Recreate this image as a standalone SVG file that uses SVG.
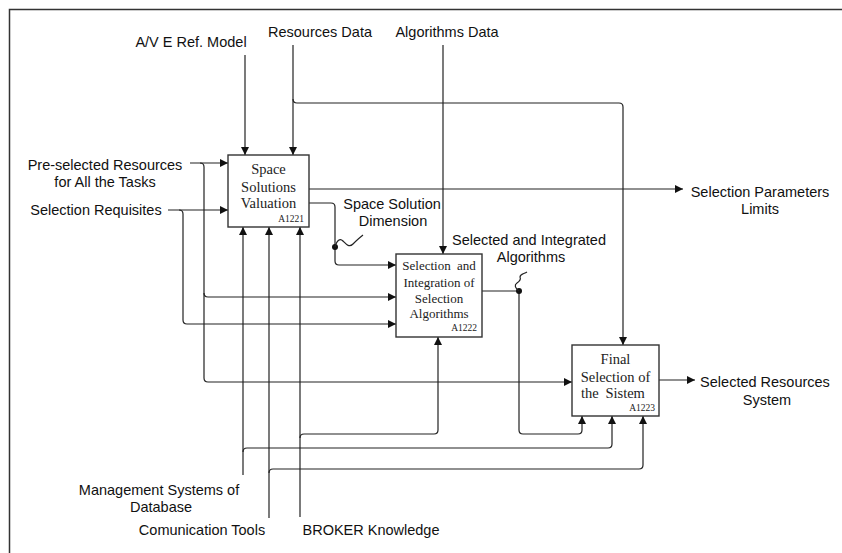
<svg xmlns="http://www.w3.org/2000/svg" width="842" height="553" viewBox="0 0 842 553">
<defs>
<style>
.lbl{font-family:"Liberation Sans",Arial,sans-serif;font-size:14.5px;fill:#111;text-anchor:middle}
.box{fill:#fff;stroke:#333;stroke-width:1.4}
.bt{font-family:"Liberation Serif","Times New Roman",serif;fill:#222;text-anchor:middle}
.code{font-family:"Liberation Serif","Times New Roman",serif;font-size:9.5px;fill:#222;text-anchor:end}
.c{fill:none;stroke:#222;stroke-width:1.2}
.a{marker-end:url(#ah)}
</style>
<marker id="ah" markerUnits="userSpaceOnUse" markerWidth="9" markerHeight="8" refX="8" refY="4" orient="auto">
<path d="M0,0 L8,4 L0,8 Z" fill="#111"/>
</marker>
</defs>
<rect width="842" height="553" fill="#fff"/>
<path d="M9.5,553 V9.5 H842" fill="none" stroke="#333" stroke-width="1.5"/>

<g id="connectors">
<path class="c a" d="M245,55 V155"/>
<path class="c a" d="M293,45 V155"/>
<path class="c a" d="M293,99 Q293,103 297,103 H619 Q623,103 623,107 V345"/>
<path class="c a" d="M443,45 V254"/>
<path class="c a" d="M190,163 H228"/>
<path class="c a" d="M200,163 Q204,163 204,167 V293 Q204,297 208,297 H396"/>
<path class="c a" d="M204,293 V378 Q204,382 208,382 H572"/>
<path class="c a" d="M168,210 H228"/>
<path class="c a" d="M179,210 Q183,210 183,214 V320 Q183,324 187,324 H396"/>
<path class="c a" d="M309,189 H683"/>
<path class="c a" d="M309,203 H331 Q335,203 335,207 V261 Q335,265 339,265 H396"/>
<circle cx="335" cy="247" r="3" fill="#111"/>
<path class="c" d="M335,247 C337,240 340,238 343,241 C346,244 349,248 353,244 C356,241 359,238 363,235"/>
<path class="c a" d="M482,291 H519 V430 Q519,434 523,434 H578 Q582,434 582,430 V416"/>
<circle cx="519" cy="291" r="3" fill="#111"/>
<path class="c" d="M519,291 C515,288 514,285 517,283 C520,281 521,279 520,277 C520,274 524,274 527,272"/>
<path class="c a" d="M243,475 V227"/>
<path class="c a" d="M243,452 Q243,448 247,448 H608 Q612,448 612,444 V416"/>
<path class="c a" d="M269,518 V227"/>
<path class="c a" d="M269,473 Q269,469 273,469 H639 Q643,469 643,465 V416"/>
<path class="c a" d="M300,517 V227"/>
<path class="c a" d="M300,438 Q300,434 304,434 H434 Q438,434 438,430 V337"/>
<path class="c a" d="M659,380 H695"/>
</g>

<g id="A1221">
<rect class="box" x="228" y="155" width="81" height="72"/>
<text class="bt" font-size="14.5" x="268.5" y="174">Space</text>
<text class="bt" font-size="14.5" x="268.5" y="192">Solutions</text>
<text class="bt" font-size="14.5" x="268.5" y="208">Valuation</text>
<text class="code" x="304" y="222">A1221</text>
</g>

<g id="A1222">
<rect class="box" x="396" y="254" width="86" height="83"/>
<text class="bt" font-size="13" x="439" y="270" word-spacing="3">Selection and</text>
<text class="bt" font-size="13" x="439" y="287">Integration of</text>
<text class="bt" font-size="13" x="439" y="303">Selection</text>
<text class="bt" font-size="13" x="439" y="318">Algorithms</text>
<text class="code" x="477" y="331">A1222</text>
</g>

<g id="A1223">
<rect class="box" x="572" y="345" width="87" height="71"/>
<text class="bt" font-size="14.5" x="615.5" y="364">Final</text>
<text class="bt" font-size="14.5" x="615.5" y="382">Selection of</text>
<text class="bt" font-size="14.5" x="613" y="398" word-spacing="3">the Sistem</text>
<text class="code" x="655" y="411">A1223</text>
</g>

<g id="labels">
<text class="lbl" x="191" y="47">A/V E Ref. Model</text>
<text class="lbl" x="320" y="37">Resources Data</text>
<text class="lbl" x="447" y="37">Algorithms Data</text>
<text class="lbl" x="105" y="170">Pre-selected Resources</text>
<text class="lbl" x="105" y="187">for All the Tasks</text>
<text class="lbl" x="96" y="215">Selection Requisites</text>
<text class="lbl" x="392" y="209">Space Solution</text>
<text class="lbl" x="393" y="226">Dimension</text>
<text class="lbl" x="529" y="245">Selected and Integrated</text>
<text class="lbl" x="531" y="262">Algorithms</text>
<text class="lbl" x="760" y="197">Selection Parameters</text>
<text class="lbl" x="760" y="214">Limits</text>
<text class="lbl" x="765" y="387">Selected Resources</text>
<text class="lbl" x="767" y="405">System</text>
<text class="lbl" x="159" y="495">Management Systems of</text>
<text class="lbl" x="161" y="512">Database</text>
<text class="lbl" x="202" y="535">Comunication Tools</text>
<text class="lbl" x="371" y="535">BROKER Knowledge</text>
</g>
</svg>
